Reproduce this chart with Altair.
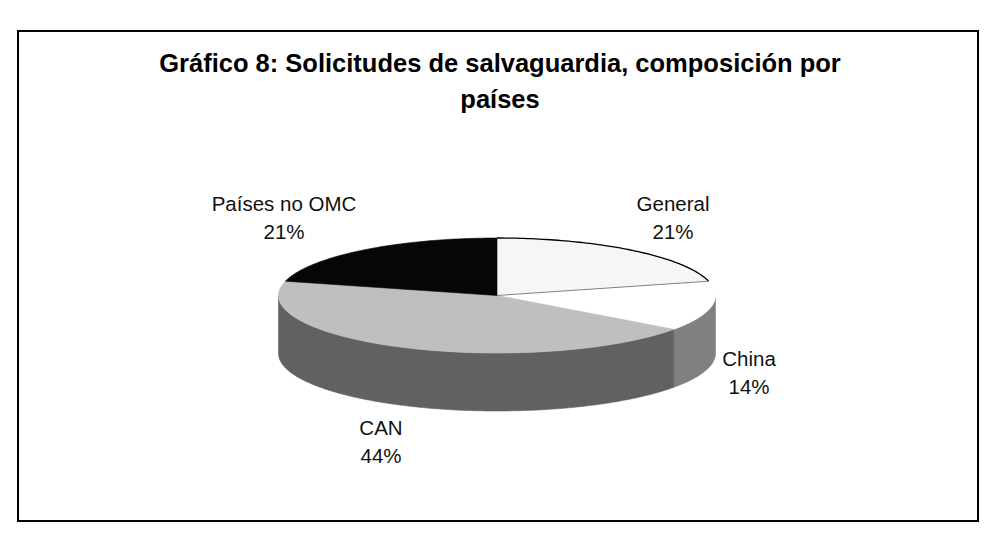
import math
import altair as alt
import pandas as pd

title_lines = ["Gráfico 8: Solicitudes de salvaguardia, composición por", "países"]
categories = ["General", "China", "CAN", "Países no OMC"]
shares = [21, 14, 44, 21]
top_colors = ["#f6f6f6", "#ffffff", "#bfbfbf", "#060606"]
side_colors = ["#f6f6f6", "#808080", "#616161", "#060606"]

# pie geometry in view pixels (view origin is the frame's corner)
CX, CY, RX, RY, DEPTH = 479.0, 264.5, 218.5, 57.5, 58.0
W, H = 960, 490


def rim(a_deg, dy=0.0):
    a = math.radians(a_deg)
    return [CX + RX * math.sin(a), CY - RY * math.cos(a) + dy]


def sweep(a0, a1, dy=0.0):
    n = max(2, int(abs(a1 - a0)))
    return [rim(a0 + (a1 - a0) * i / n, dy) for i in range(n + 1)]


def feature(kind, part, coords):
    return {"type": "Feature", "properties": {"part": part},
            "geometry": {"type": kind, "coordinates": coords}}


starts, acc = [], 0.0
for s in shares:
    starts.append((acc, acc + s * 3.6))
    acc += s * 3.6

polys = []
# visible side wall: only the front half of the ellipse
for c, (a0, a1) in zip(categories, starts):
    lo, hi = max(a0, 90), min(a1, 270)
    if hi > lo:
        ring = sweep(lo, hi) + sweep(hi, lo, DEPTH)
        polys.append(feature("Polygon", "side " + c, [ring + [ring[0]]]))
for c, (a0, a1) in zip(categories, starts):
    ring = [[CX, CY]] + sweep(a0, a1) + [[CX, CY]]
    polys.append(feature("Polygon", "top " + c, [ring]))

domain = ["side " + c for c in categories] + ["top " + c for c in categories]
rng = side_colors + top_colors
scale = alt.Scale(domain=domain, range=rng)

faces = alt.Chart(alt.Data(values=polys)).mark_geoshape(strokeWidth=0.6).encode(
    color=alt.Color("properties.part:N", scale=scale, legend=None),
    stroke=alt.Stroke("properties.part:N", scale=scale, legend=None),
).project(type="identity", scale=1, translate=[0, 0])

a0, a1 = starts[0]
arc_line = alt.Chart(alt.Data(values=[feature("LineString", "arc", sweep(a0, a1))])).mark_geoshape(
    filled=False, stroke="#000000", strokeWidth=1.3
).project(type="identity", scale=1, translate=[0, 0])
edge_line = alt.Chart(alt.Data(values=[feature("LineString", "edge", [[CX, CY], rim(a1)])])).mark_geoshape(
    filled=False, stroke="#808080", strokeWidth=1
).project(type="identity", scale=1, translate=[0, 0])

label_x = [655, 731, 363, 266]
label_y = [174, 329, 398, 174]
labels = pd.DataFrame({
    "text": [f"{c}\n{s}%" for c, s in zip(categories, shares)],
    "px": label_x,
    "py": label_y,
})
label_layer = alt.Chart(labels).mark_text(
    font="Liberation Sans", fontSize=20.5, color="#111111", lineBreak="\n", lineHeight=28,
    align="center", baseline="middle"
).encode(
    x=alt.X("px:Q", scale=None, axis=None),
    y=alt.Y("py:Q", scale=None, axis=None),
    text="text:N",
)

title_df = pd.DataFrame({"text": title_lines, "px": [482, 482], "py": [33, 69]})
title_layer = alt.Chart(title_df).mark_text(
    font="Liberation Sans", fontSize=25.5, fontWeight="bold", color="#000000",
    align="center", baseline="middle"
).encode(
    x=alt.X("px:Q", scale=None, axis=None),
    y=alt.Y("py:Q", scale=None, axis=None),
    text="text:N",
)

chart = alt.layer(faces, arc_line, edge_line, label_layer, title_layer).properties(
    width=W, height=H,
    padding={"left": 10, "top": 23, "right": 9, "bottom": 13},
    autosize=alt.AutoSizeParams(type="none"),
    background="#ffffff",
).configure_view(stroke="#000000", strokeWidth=2)

chart.save("out.html", embed_options={"renderer": "svg", "actions": False})
